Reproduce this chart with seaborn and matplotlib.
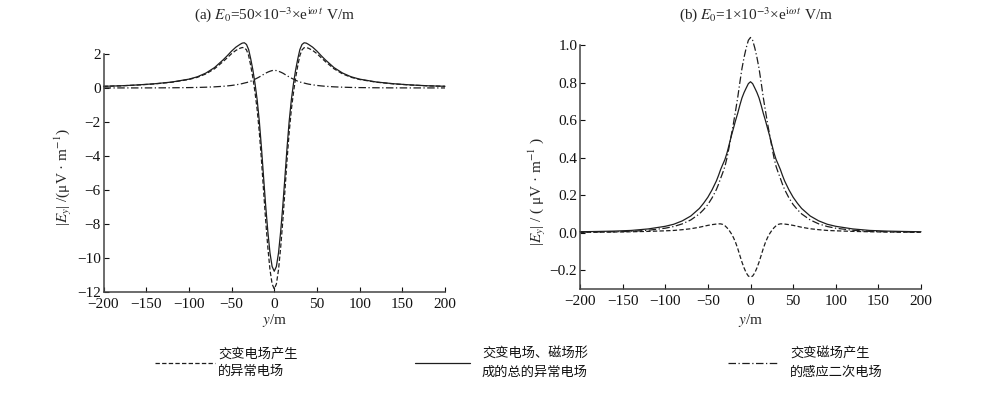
import matplotlib
matplotlib.use('Agg')
import matplotlib.pyplot as plt
from matplotlib.lines import Line2D
import seaborn as sns

# positions along the profile, m
y_m = [-200, -180, -160, -140, -120, -100, -90, -80, -70, -60, -55, -50, -45, -40, -37.5,
       -35, -32.5, -30, -27.5, -25, -22.5, -20, -17.5, -15, -12.5, -10, -7.5, -5, -2.5, 0,
       2.5, 5, 7.5, 10, 12.5, 15, 17.5, 20, 22.5, 25, 27.5, 30, 32.5, 35, 37.5,
       40, 45, 50, 55, 60, 70, 80, 90, 100, 120, 140, 160, 180, 200]

# (a) E0 = 50e-3
total_a = [0.10, 0.13, 0.18, 0.25, 0.35, 0.52, 0.66, 0.88, 1.20, 1.65, 1.90, 2.17, 2.40, 2.57, 2.64,
           2.66, 2.56, 2.26, 1.70, 1.05, 0.25, -0.70, -1.95, -3.50, -5.25, -6.95, -8.45, -9.70, -10.50, -10.78,
           -10.50, -9.70, -8.45, -6.95, -5.25, -3.50, -1.95, -0.70, 0.25, 1.05, 1.70, 2.26, 2.56, 2.66, 2.64,
           2.57, 2.40, 2.17, 1.90, 1.65, 1.20, 0.88, 0.66, 0.52, 0.35, 0.25, 0.18, 0.13, 0.10]
elec_a = [0.10, 0.125, 0.175, 0.24, 0.34, 0.50, 0.63, 0.83, 1.13, 1.55, 1.78, 2.02, 2.21, 2.34, 2.38,
          2.37, 2.24, 1.91, 1.30, 0.59, -0.27, -1.28, -2.60, -4.22, -6.05, -7.83, -9.39, -10.69, -11.53, -11.82,
          -11.53, -10.69, -9.39, -7.83, -6.05, -4.22, -2.60, -1.28, -0.27, 0.59, 1.30, 1.91, 2.24, 2.37, 2.38,
          2.34, 2.21, 2.02, 1.78, 1.55, 1.13, 0.83, 0.63, 0.50, 0.34, 0.24, 0.175, 0.125, 0.10]
mag_a = [0.003, 0.004, 0.005, 0.007, 0.013, 0.024, 0.033, 0.047, 0.068, 0.10, 0.123, 0.15, 0.186, 0.23, 0.258,
         0.29, 0.32, 0.353, 0.40, 0.458, 0.52, 0.582, 0.65, 0.72, 0.80, 0.875, 0.935, 0.985, 1.025, 1.04,
         1.025, 0.985, 0.935, 0.875, 0.80, 0.72, 0.65, 0.582, 0.52, 0.458, 0.40, 0.353, 0.32, 0.29, 0.258,
         0.23, 0.186, 0.15, 0.123, 0.10, 0.068, 0.047, 0.033, 0.024, 0.013, 0.007, 0.005, 0.004, 0.003]

# (b) E0 = 1e-3
total_b = [0.005, 0.0065, 0.0085, 0.012, 0.020, 0.034, 0.045, 0.063, 0.089, 0.129, 0.157, 0.189, 0.229, 0.276, 0.305,
           0.337, 0.364, 0.390, 0.426, 0.470, 0.515, 0.556, 0.598, 0.636, 0.679, 0.718, 0.747, 0.771, 0.794, 0.804,
           0.794, 0.771, 0.747, 0.718, 0.679, 0.636, 0.598, 0.556, 0.515, 0.470, 0.426, 0.390, 0.364, 0.337, 0.305,
           0.276, 0.229, 0.189, 0.157, 0.129, 0.089, 0.063, 0.045, 0.034, 0.020, 0.012, 0.0085, 0.0065, 0.005]
elec_b = [0.002, 0.0025, 0.0035, 0.005, 0.007, 0.010, 0.012, 0.016, 0.021, 0.029, 0.034, 0.039, 0.043, 0.046, 0.047,
          0.047, 0.044, 0.037, 0.026, 0.012, -0.005, -0.026, -0.052, -0.084, -0.121, -0.157, -0.188, -0.214, -0.231, -0.236,
          -0.231, -0.214, -0.188, -0.157, -0.121, -0.084, -0.052, -0.026, -0.005, 0.012, 0.026, 0.037, 0.044, 0.047, 0.047,
          0.046, 0.043, 0.039, 0.034, 0.029, 0.021, 0.016, 0.012, 0.010, 0.007, 0.005, 0.0035, 0.0025, 0.002]
mag_b = [0.003, 0.004, 0.005, 0.007, 0.013, 0.024, 0.033, 0.047, 0.068, 0.10, 0.123, 0.15, 0.186, 0.23, 0.258,
         0.29, 0.32, 0.353, 0.40, 0.458, 0.52, 0.582, 0.65, 0.72, 0.80, 0.875, 0.935, 0.985, 1.025, 1.04,
         1.025, 0.985, 0.935, 0.875, 0.80, 0.72, 0.65, 0.582, 0.52, 0.458, 0.40, 0.353, 0.32, 0.29, 0.258,
         0.23, 0.186, 0.15, 0.123, 0.10, 0.068, 0.047, 0.033, 0.024, 0.013, 0.007, 0.005, 0.004, 0.003]

legend_labels = ['交变电场产生\n的异常电场', '交变电场、磁场形\n成的总的异常电场', '交变磁场产生\n的感应二次电场']

sns.set_style('ticks', {'xtick.direction': 'in', 'ytick.direction': 'in'})
plt.rcParams['font.family'] = ['Liberation Serif', 'Noto Sans CJK SC']
plt.rcParams['mathtext.fontset'] = 'stix'
plt.rcParams['axes.unicode_minus'] = True

LC = '#1e1e1e'
LW = 0.9
DASH = (0, (3.5, 1.8))
DASHDOT = (0, (6, 2, 1, 2))

fig = plt.figure(figsize=(10, 3.93), dpi=100)
ax_a = fig.add_axes([0.1035, 0.257, 0.3415, 0.6056])
ax_b = fig.add_axes([0.580, 0.2646, 0.341, 0.621])

for ax, tot, el, mg in [(ax_a, total_a, elec_a, mag_a), (ax_b, total_b, elec_b, mag_b)]:
    sns.lineplot(x=y_m, y=el, ax=ax, color=LC, lw=LW, linestyle=DASH, clip_on=False)
    sns.lineplot(x=y_m, y=tot, ax=ax, color=LC, lw=LW, clip_on=False)
    sns.lineplot(x=y_m, y=mg, ax=ax, color=LC, lw=LW, linestyle=DASHDOT, clip_on=False)
    ax.set_xlim(-200, 200)
    ax.set_xticks(range(-200, 201, 50))
    sns.despine(ax=ax)
    for s in ['left', 'bottom']:
        ax.spines[s].set_linewidth(1.1)
        ax.spines[s].set_color('#444444')
    ax.tick_params(direction='in', labelsize=11, length=3.5, width=0.8, colors='#111111')
    ax.tick_params(axis='x', pad=4)
    ax.tick_params(axis='y', pad=2)
    ax.set_xlabel('$y$/m', fontsize=11)
    ax.xaxis.label.set_va('center')

ax_a.set_ylim(-12, 2)
ax_a.set_yticks(range(-12, 3, 2))
ax_b.set_ylim(-0.3, 1.0)
ax_b.set_yticks([-0.2, 0.0, 0.2, 0.4, 0.6, 0.8, 1.0])
ax_b.set_yticklabels(['−0.2', '0.0', '0.2', '0.4', '0.6', '0.8', '1.0'])

ax_a.set_ylabel('|$E_y$| /(μV · m$^{-1}$)', fontsize=11)
ax_a.yaxis.label.set_va('center')
ax_a.yaxis.set_label_coords(-0.119, 0.483)
ax_a.xaxis.set_label_coords(0.5, -0.118)

ax_b.set_ylabel('|$E_y$| / ( μV · m$^{-1}$ )', fontsize=11)
ax_b.yaxis.label.set_va('center')
ax_b.yaxis.set_label_coords(-0.126, 0.40)
ax_b.xaxis.set_label_coords(0.5, -0.127)

fig.text(0.274, 0.962, '(a) $E_0$=50×10$^{-3}$×e$^{\\mathrm{i}\\omega\\, t}$ V/m',
         ha='center', va='center', fontsize=11)
fig.text(0.756, 0.962, '(b) $E_0$=1×10$^{-3}$×e$^{\\mathrm{i}\\omega\\, t}$ V/m',
         ha='center', va='center', fontsize=11)

# legend drawn below the panels
leg_y = 1 - 363 / 393
legend_items = [((0.155, 0.215), DASH, 0.218),
                ((0.415, 0.470), '-', 0.482),
                ((0.728, 0.778), DASHDOT, 0.790)]
for ((x0, x1), ls, tx), lab in zip(legend_items, legend_labels):
    fig.add_artist(Line2D([x0, x1], [leg_y, leg_y], transform=fig.transFigure,
                          color=LC, lw=LW, linestyle=ls))
    fig.text(tx, leg_y, lab, ha='left', va='center', fontsize=9.5,
             linespacing=1.6, color='#111111')

fig.savefig('out.png', dpi=100)
